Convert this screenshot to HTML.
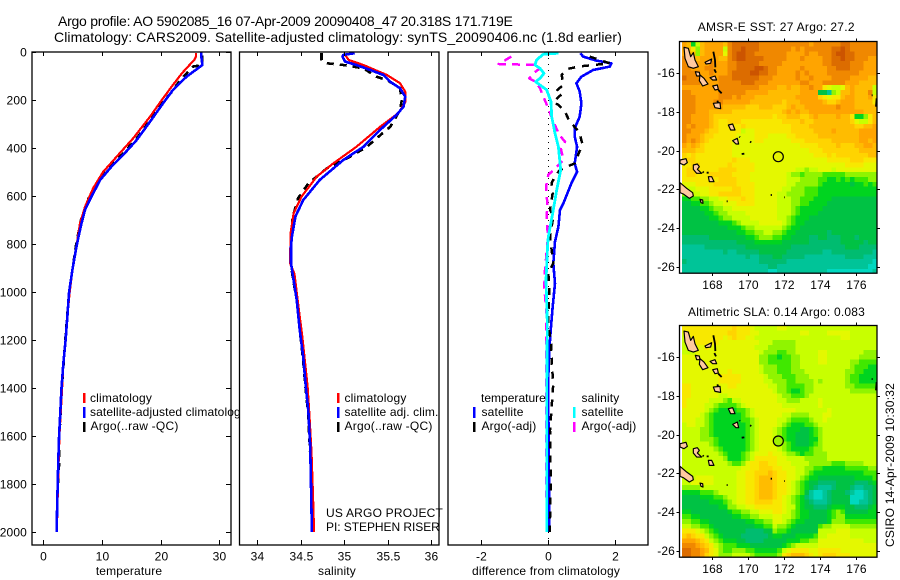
<!DOCTYPE html>
<html>
<head>
<meta charset="utf-8">
<title>Argo profile</title>
<style>
html,body{margin:0;padding:0;background:#fff}
svg{display:block}
text{font-family:"Liberation Sans",sans-serif;font-size:12px;fill:#000;letter-spacing:.15px}
.frame{fill:none;stroke:#000;stroke-width:1.3}
.s{fill:none;stroke-linejoin:round;shape-rendering:crispEdges}
.tk{stroke:#000;stroke-width:1;shape-rendering:crispEdges}
.isl{fill:#ffc9a0;stroke:#000;stroke-width:3.5;stroke-linejoin:round}
.bl{fill:none;stroke:#000;stroke-width:5.5}
</style>
</head>
<body>
<svg id="fig" xmlns="http://www.w3.org/2000/svg" width="900" height="580" viewBox="0 0 900 580">
<defs>
<clipPath id="clip-sst"><rect x="680" y="42" width="197" height="231"/></clipPath>
<clipPath id="clip-sla"><rect x="680" y="326" width="197" height="231"/></clipPath>
<clipPath id="clip-legend"><rect x="0" y="380" width="240" height="60"/></clipPath>
<clipPath id="clip-p1"><rect x="32" y="52" width="199" height="493"/></clipPath>
<clipPath id="clip-p2"><rect x="240" y="52" width="199" height="493"/></clipPath>
<clipPath id="clip-p3"><rect x="448" y="52" width="200" height="493"/></clipPath>
<g id="islands">
<path class="isl" d="M72,112L85,115L92,140L100,128L105,150L115,170L100,175L85,170L75,145Z"/>
<path class="isl" d="M135,157L155,147L152,160L138,162Z"/>
<path class="isl" d="M106,185L118,187L120,198L110,198Z"/>
<path class="isl" d="M120,195L132,205L144,222L128,228L118,212Z"/>
<path class="bl" d="M160,125L165,150L166,172M163,178L168,188"/>
<path class="isl" d="M150,203L165,198L170,210L158,210Z"/>
<path class="isl" d="M158,228L172,225L175,238L165,240Z"/>
<path class="bl" d="M175,240L185,250M172,272L175,280"/>
<path class="isl" d="M160,280L180,278L182,296L165,293Z"/>
<path class="isl" d="M205,345L218,342L225,360L212,360Z"/>
<path class="isl" d="M218,392L232,385L236,402L228,402Z"/>
<path class="bl" d="M238,380l2,2M270,395l4,2M245,432l8,-1"/>
<path class="isl" d="M60,450L78,446L82,458L72,465L60,460Z"/>
<path class="isl" d="M100,465L112,462L118,470L112,478L125,490L110,490L100,478Z"/>
<path class="isl" d="M145,500L155,500L162,515L148,515Z"/>
<path class="bl" d="M140,488l6,0M128,485l3,3M332,555l4,0M373,562l2,0M200,574l3,0M635,256l3,0M650,265L648,290"/>
<path class="isl" d="M60,518L80,535L98,548L100,558L88,565L70,552L60,548Z"/>
<path class="isl" d="M120,568l8,2l1,10l-6,-2Z"/>
</g>
</defs>

<rect x="0" y="0" width="900" height="580" fill="#fff"/>

<text x="58" y="26" style="font-size:14px" textLength="455" lengthAdjust="spacing">Argo profile: AO 5902085_16 07-Apr-2009 20090408_47 20.318S 171.719E</text>
<text x="54" y="42" style="font-size:14px" textLength="568" lengthAdjust="spacing">Climatology: CARS2009. Satellite-adjusted climatology: synTS_20090406.nc (1.8d earlier)</text>

<!-- temperature panel -->
<g id="p1">
<g clip-path="url(#clip-p1)">
<polyline id="t-argo" class="s" stroke="#000" stroke-width="2.6" stroke-dasharray="7 6"/>
<polyline id="t-clim" class="s" stroke="#f00" stroke-width="2.2"/>
<polyline id="t-sat" class="s" stroke="#00f" stroke-width="2.6"/>
</g>
<rect class="frame" x="32" y="52" width="199" height="493"/>
<text x="129" y="575" text-anchor="middle">temperature</text>
<rect x="83" y="393" width="2.5" height="10" fill="#f00"/>
<rect x="83" y="407" width="2.5" height="11" fill="#00f"/>
<rect x="83" y="422" width="2.5" height="10" fill="#000"/>
<text x="90" y="402" textLength="62">climatology</text>
<g clip-path="url(#clip-legend)"><text x="90" y="416" textLength="157">satellite-adjusted climatology</text></g>
<text x="90.5" y="430" textLength="88">Argo(..raw -QC)</text>
</g>

<!-- salinity panel -->
<g id="p2">
<g clip-path="url(#clip-p2)">
<polyline id="s-argo" class="s" stroke="#000" stroke-width="2.6" stroke-dasharray="7 6"/>
<polyline id="s-clim" class="s" stroke="#f00" stroke-width="2.2"/>
<polyline id="s-sat" class="s" stroke="#00f" stroke-width="2.6"/>
</g>
<rect class="frame" x="239.5" y="52" width="199.5" height="493"/>
<text x="337" y="575" text-anchor="middle">salinity</text>
<rect x="337" y="393" width="2.5" height="10" fill="#f00"/>
<rect x="337" y="407" width="2.5" height="11" fill="#00f"/>
<rect x="337" y="422" width="2.5" height="10" fill="#000"/>
<text x="344.5" y="402" textLength="62">climatology</text>
<text x="344.5" y="416" textLength="94">satellite adj. clim.</text>
<text x="344.5" y="430" textLength="88">Argo(..raw -QC)</text>
<text x="326" y="517" textLength="117">US ARGO PROJECT</text>
<text x="326" y="531" textLength="114">PI: STEPHEN RISER</text>
</g>

<!-- difference panel -->
<g id="p3">
<line x1="548.5" y1="52" x2="548.5" y2="545" stroke="#000" stroke-width="1" stroke-dasharray="1 5"/>
<g clip-path="url(#clip-p3)">
<polyline id="d-t-sat" class="s" stroke="#00f" stroke-width="2.6"/>
<polyline id="d-t-argo" class="s" stroke="#000" stroke-width="2.5" stroke-dasharray="7 7"/>
<polyline id="d-s-argo" class="s" stroke="#f0f" stroke-width="2.5" stroke-dasharray="8 6"/>
<polyline id="d-s-sat" class="s" stroke="#0ff" stroke-width="2.8"/>
</g>
<rect class="frame" x="448" y="52" width="200" height="493"/>
<text x="472" y="575" textLength="148">difference from climatology</text>
<text x="481" y="402" textLength="65">temperature</text>
<text x="581.5" y="402">salinity</text>
<rect x="473" y="407" width="2.5" height="11" fill="#00f"/>
<rect x="473" y="422" width="2.5" height="10" fill="#000"/>
<rect x="573" y="407" width="2.5" height="11" fill="#0ff"/>
<rect x="573" y="422" width="2.5" height="10" fill="#f0f"/>
<text x="481.5" y="416">satellite</text>
<text x="481.5" y="430">Argo(-adj)</text>
<text x="581.5" y="416">satellite</text>
<text x="581.5" y="430">Argo(-adj)</text>
</g>

<!-- SST map -->
<g>
<text x="697.7" y="31" textLength="157">AMSR-E SST: 27 Argo: 27.2</text>
<g clip-path="url(#clip-sst)">
<g id="sst-cells"></g>
<g transform="translate(660,10) scale(0.33333)"><use href="#islands"/></g>
</g>
<circle cx="778.3" cy="156.7" r="5" fill="#e4f400" stroke="#000" stroke-width="1.2"/>
<g id="sst-axes"></g>
<rect class="frame" x="679.5" y="41.5" width="197.5" height="231.7"/>
</g>

<!-- SLA map -->
<g>
<text x="688" y="316" textLength="177">Altimetric SLA: 0.14 Argo: 0.083</text>
<g clip-path="url(#clip-sla)">
<g id="sla-cells"></g>
<g transform="translate(660,293.7) scale(0.33333)"><use href="#islands"/></g>
</g>
<circle cx="778.3" cy="441" r="5" fill="#a0f000" stroke="#000" stroke-width="1.2"/>
<g id="sla-axes"></g>
<rect class="frame" x="679.5" y="325.5" width="197.5" height="231.7"/>
</g>

<text transform="translate(894,547) rotate(-90)" textLength="164" lengthAdjust="spacing">CSIRO 14-Apr-2009 10:30:32</text>
<g id="profile-axes"></g>
</svg>

<script>
// Depth ticks and axis ticks
const depthTicks = [0,200,400,600,800,1000,1200,1400,1600,1800,2000];
const tempTicks = [0,10,20,30];
const salTicks = [34,34.5,35,35.5,36];
const salTickLabels = ['34','34.5','35','35.5','36'];
const diffTicks = [-2,0,2];
const lonTicks = [168,170,172,174,176];
const latTicks = [16,18,20,22,24,26];

// Temperature panel
const tempSatDepth = [0,15,54,103,158,214,290,367,429,478,533,603,658,714,770,817,900,1000,1100,1200,1300,1400,1500,1600,1700,1800,1900,2000];
const tempSatValue = [26.9,26.9,27.1,24.4,22.1,20.4,18.2,15.9,13.6,11.6,9.7,8.2,7.1,6.5,6,5.6,5,4.4,4.1,3.8,3.4,3.1,2.9,2.7,2.55,2.45,2.35,2.28];
const tempClimDepth = [5,20,33,89,137,193,269,360,436,499,567,645,714,817,900,1000,1100,1200,1300,1400,1600,1800,2000];
const tempClimValue = [26,26,25.7,23.6,22.1,20.4,18.2,15.3,12.5,10.2,8.5,7.1,6.25,5.6,5,4.5,4.1,3.8,3.4,3.2,2.75,2.5,2.3];
const tempArgoDepth = [15,54,61,117,172,228,285,360,436,499,560,620,700,800,900,1000,1200,1400,1600,1700,1800];
const tempArgoValue = [27.1,27.1,25.5,23.3,21.7,19.6,18.2,15.9,13.1,10.5,8.8,7.5,6.4,5.6,5,4.4,3.75,3.15,2.75,2.72,2.5];

// Salinity panel
const salSatDepth = [5,12,20,40,54,75,96,124,151,186,228,262,325,395,450,533,617,686,770,811,880,950,1033,1158,1270,1394,1500,1645,1825,2000];
const salSatValue = [35.12,34.99,34.98,35.01,35.14,35.30,35.45,35.53,35.64,35.70,35.68,35.60,35.41,35.22,34.99,34.72,34.53,34.44,34.40,34.39,34.39,34.42,34.455,34.49,34.53,34.56,34.59,34.61,34.62,34.63];
const salClimDepth = [12,33,54,96,130,165,210,255,312,395,464,519,603,672,755,880,925,1046,1186,1394,1504,1670,1825,2000];
const salClimValue = [35.01,35.05,35.22,35.49,35.64,35.70,35.70,35.62,35.41,35.14,34.875,34.685,34.51,34.42,34.385,34.38,34.43,34.47,34.52,34.58,34.60,34.625,34.64,34.655];
const salArgoDepth = [5,33,47,54,68,103,117,150,200,242,311,360,395,436,485,547,610,686,770,880,950,1033,1158,1270,1394,1500,1645,1825];
const salArgoValue = [34.74,34.74,34.80,34.99,35.22,35.37,35.49,35.64,35.66,35.64,35.53,35.37,35.26,35.07,34.80,34.59,34.47,34.41,34.39,34.385,34.415,34.455,34.49,34.525,34.555,34.585,34.605,34.63];

// Difference panel
const diffTSatDepth = [5,19,36,47,61,75,103,130,165,214,269,318,352,395,464,499,547,630,658,728,790,880,964,1060,1145,1242,1353,1478,1575,1800,2000];
const diffTSatValue = [0.97,1.05,1.45,1.9,1.85,1.35,1.0,0.85,0.95,1.0,0.95,0.8,0.8,0.87,0.8,0.87,0.7,0.46,0.36,0.31,0.21,0.16,0.21,0.14,0.09,0.04,0.01,0.0,0.02,0.03,0.03];
const diffTArgoDepth = [19,47,55,60,70,96,137,158,172,207,221,249,290,332,383,429,464,478,494,519,546,588,658,686,770,880,921,978,1130,1214,1297,1380,1478,1575,1800,2000];
const diffTArgoValue = [1.25,1.85,1.3,0.95,0.6,0.41,0.46,0.28,0.44,0.16,0.31,0.51,0.65,0.93,1.03,0.9,0.8,0.56,0.34,0.21,0.11,0.14,0.06,0.16,0.06,0.16,0.01,0.04,0.01,0.09,0.11,0.16,0.11,0.06,0.08,0.05];
const diffSSatDepth = [5,9,33,54,68,89,110,124,158,207,269,339,395,492,575,672,770,800,950,1130,1437,2000];
const diffSSatValue = [0.31,-0.14,-0.34,-0.39,-0.24,-0.12,-0.24,-0.37,-0.04,0.09,0.11,0.21,0.31,0.38,0.26,0.14,0.01,-0.01,-0.06,-0.02,-0.04,-0.04];
const diffSArgoDepth = [19,50,54,68,89,110,124,151,186,235,290,346,374,400,450,485,512,561,630,700,770,908,978,1100,1200,1492,2000];
const diffSArgoValue = [-1.1,-1.48,-0.34,-0.24,-0.44,-0.56,-0.37,-0.24,-0.14,0.01,0.16,0.34,0.51,0.38,0.46,0.21,0.01,-0.06,-0.02,-0.04,0,-0.09,-0.11,-0.04,-0.06,-0.06,-0.04];

// Map colour levels, low to high
const levelColors = {'0':'#00d8c0','1':'#00c498','2':'#00bc70','3':'#00c244','4':'#00d420','5':'#40e800','6':'#90f400','7':'#c8ff00','8':'#e4f800','9':'#f8e800','a':'#ffd400','b':'#ffbc00','c':'#ffa400','d':'#f08800','e':'#dc6c00','f':'#cc5400'};

// Sea surface temperature, one character per grid cell
const sstGrid = [
"cb47bccccb deeeeeeddd ddddddddcd dddddeedddddd",
"cb96bcccc7 deefeeeddd ddddcdcddd dddeefedddddd",
"cbb6bcccc8 deffeedddd dddccccdcc dddeffeeddddd",
"dcbbccccbb deffeeeedd dddcccdccc cddeefeedddcc",
"dcccccdccc ddeeeeeddd ddcccccccc cddeeeedddccc",
"ddcccddccc ddeeeeffed dcccccdccc ccddeeedddccc",
"ddddccdccc deeeeffeed dccccdcdcc ccdddddddcccc",
"edddccccdd deeeeeeddd cccccdccdc cccddddccccbb",
"ddddccccdd dddeeedddc ccccccddcc cdddddcccbbbb",
"ccccccccdd dddddddccc cbbcbbccdc c98778bcbbbb7",
"ddccccccdd ddddcccccb bbbbbbcccc 33167bbcbbbd7",
"dddcccccdd dcdcccbbbb bbbbbccccc a9899bccbbbc9",
"dddccccddc cccccbbbbb bbabbbcccc cbaabcccbbbb9",
"dddccccccb bbbbaaabbb aaabcbbccc ccccdcccbbbbb",
"dddcccbbbb baaaaaaaaa aabcbcbbcc ccccccccccbbb",
"ddccccbaaa aaaaaaaaaa 9aabbbaabc bbbbcbb94469b",
"ddccccba99 aaa9999999 99aaaabaab bbbbbbba8779b",
"dcdcccba99 999a999999 9999aaaabb bbbbbbbbaabbc",
"ddcccbaa99 9997889999 9999aaaaab bbbcbbbbbcccc",
"dcccbaa999 9988889998 88899aaaaa bbbbbbbbbcccc",
"dcdcba9999 9888889988 8888999aaa aaabbbbbbccbc",
"cbcba99999 9888888888 8888889999 aaaabaaabbccb",
"bbbaa99999 9888888888 8888888899 9aaaaaaaabbbb",
"a9a9999999 9888888888 8888888889 99a9aaaaaaabb",
"9aa9999999 9a99988888 8888888888 8899999aaa999",
"99aa999999 a999998888 8888888888 8888889999888",
"9aaa9999aa aa99998888 8888877677 8887888888888",
"9aa999aaaa a999988888 8887665666 6555556666666",
"999999a9aa aa99988888 8887776666 5544545455566",
"8889999aaa aa99998888 8887766666 5444444344545",
"7778889999 9aa9998888 8877666555 4444444444444",
"66778899aa aaa9998888 8776666555 4444444444444",
"4455667788 999a998888 8777665554 4443333333333",
"3344556778 8899998888 8777665544 4433333333333",
"3333445667 7888888888 8777654444 4333333333333",
"3333344566 7777888888 8777654444 3333333333333",
"3333334456 6777788888 8776544433 3333333333333",
"3333333344 4567777888 8876544333 3333333333333",
"3333333333 4445667777 7765443333 3333333333333",
"3333333333 3344556677 6654433333 3323333333333",
"2222223333 3333445666 5544333322 3322233323333",
"2222222222 2233334444 4433333322 2222233333233",
"1111122222 2222333333 3333222222 2222223332222",
"1111111112 1122222333 3332222222 2112222222221",
"1111111111 1111211222 3322222111 1111112222111",
"2111111111 1111111222 2221111111 1111111111110",
"1111111111 1111111112 2111111111 1111111111100",
"1111111111 1111111110 0111111111 1100000000001"
];

// Sea level anomaly, one character per grid cell
const slaGrid = [
"9999999999 9a99987777 7887777777 7777777777777",
"8999999999 aa99988777 7777778877 7788888777777",
"7899999998 9a99887777 7777777777 7777788777777",
"7799999988 8888888777 6666677777 7777777777777",
"7888898888 8888887776 6666677777 7777777777777",
"7778888888 8888888766 6556677777 8877777777666",
"8888888888 8888888665 5455667777 8877777776666",
"8888888888 8888888665 5555667777 8877777665555",
"8888888888 8888888766 6555667777 7777777655544",
"8888888888 9888888766 6555666777 7777776655444",
"8888888899 9998888876 6655566677 7777776554444",
"8888888899 9998888877 6665566667 6777776554444",
"9988888888 9988888887 7665555667 7777776655555",
"9988888888 8888888888 7665445667 7777777666666",
"9988888877 8888888888 8766555677 7777777777777",
"9888887776 5778888888 8776667777 8777777777777",
"9888877655 5567888888 8877777777 8777777777777",
"8888876544 4455678888 8888877777 7787777777777",
"8888765444 4445678888 8877666677 7887777777777",
"8887765444 4445567888 8776555567 7877777777777",
"7887765444 4444567888 8765444556 7777777777777",
"7777665444 4444567888 7654443345 6777777777777",
"7777665444 4444567888 7654433345 6777777777777",
"7777666544 4444567888 7654433344 6777777777777",
"7777776544 4444567888 8765433345 6777777777777",
"7777777654 4444567888 8765444456 6777777777777",
"7777777765 4445678889 8876654556 6677777777777",
"7777777776 4445679999 9887777666 6677777777777",
"7777777777 6556899aa9 9888777766 6665556666777",
"7777777777 7778899aaa 9988877665 5444445555566",
"7777777777 778899aaab a998877654 4444444444555",
"7778888777 778899abbb a998876544 3333333344445",
"7788888777 778899abbb a998765433 2222333322234",
"6666777777 778899abbb a998765432 1112333211223",
"4444555677 778899abbb a998765310 0123332100123",
"3333444556 778899abbb a987654210 0123333000123",
"3333334445 678899aaaa 9987654321 1123333001123",
"3333333344 6677889999 9987754332 2234443322234",
"4433333333 4556677888 9987654433 3345653333344",
"5544333333 3445566777 8877654433 3345664444444",
"6655443333 3333445566 8876544333 3346665555555",
"7766554333 3333334455 7665433333 5667777666666",
"9998765433 3333222233 6554333333 7777888777777",
"aba9976543 3332222223 4433344445 7788888777777",
"cccba97654 4433222233 3334445566 8888888888777",
"dddcba9765 5544433333 3345677777 8888888888888",
"eeddcb9865 5666554444 4578999988 9999988888888",
"eeddca9866 6777765555 569abbba98 9aaa999888888"
];

const NS = 'http://www.w3.org/2000/svg';
const xTemp = v => 43.3 + 5.87 * v;
const xSal = v => 257 + 87.2 * (v - 34);
const xDiff = v => 548 + 33.4 * v;
const yDepth = d => 52 + 0.24 * d;
const xLon = lon => 711.7 + 18 * (lon - 168);
const yLatSst = lat => 73.3 + 19.33 * (lat - 16);
const yLatSla = lat => 357.3 + 19.33 * (lat - 16);
const lonStart = 166.35, latStart = 14.365, cellLon = 0.2519, cellLat = 0.25;

function mk(tag, parent, attrs, txt) {
  const el = document.createElementNS(NS, tag);
  for (const k in attrs) el.setAttribute(k, attrs[k]);
  if (txt !== undefined) el.textContent = txt;
  parent.appendChild(el);
  return el;
}
function plot(id, xf, depths, values) {
  document.getElementById(id).setAttribute('points',
    depths.map((d, i) => xf(values[i]).toFixed(1) + ',' + yDepth(d).toFixed(1)).join(' '));
}

plot('t-sat', xTemp, tempSatDepth, tempSatValue);
plot('t-clim', xTemp, tempClimDepth, tempClimValue);
plot('t-argo', xTemp, tempArgoDepth, tempArgoValue);
plot('s-sat', xSal, salSatDepth, salSatValue);
plot('s-clim', xSal, salClimDepth, salClimValue);
plot('s-argo', xSal, salArgoDepth, salArgoValue);
plot('d-t-sat', xDiff, diffTSatDepth, diffTSatValue);
plot('d-t-argo', xDiff, diffTArgoDepth, diffTArgoValue);
plot('d-s-sat', xDiff, diffSSatDepth, diffSSatValue);
plot('d-s-argo', xDiff, diffSArgoDepth, diffSArgoValue);

// Profile axes
const axes = document.getElementById('profile-axes');
depthTicks.forEach(d => {
  const y = Math.round(yDepth(d)) + 0.5;
  const lab = mk('text', axes, {x: 27, y: y + 3.8, 'text-anchor': 'end'}, String(d));
  
  
  const l = mk('line', axes, {class: 'tk', x1: 32, x2: 36, y1: y, y2: y});
  
  
  const r = mk('line', axes, {class: 'tk', x1: 226, x2: 231, y1: y, y2: y});
  
  
});
function xTicks(vals, labels, xf) {
  vals.forEach((v, i) => {
    const x = Math.round(xf(v)) + 0.5;
    const t = mk('line', axes, {class: 'tk', x1: x, x2: x, y1: 52, y2: 56});
    
    
    const b = mk('line', axes, {class: 'tk', x1: x, x2: x, y1: 540, y2: 545});
    
    
    const lab = mk('text', axes, {x: x, y: 560.5, 'text-anchor': 'middle'}, labels[i]);
    
    
  });
}
xTicks(tempTicks, tempTicks.map(String), xTemp);
xTicks(salTicks, salTickLabels, xSal);
xTicks(diffTicks, diffTicks.map(String), xDiff);

// Maps
function drawGrid(gridRows, groupId, yLat) {
  const g = document.getElementById(groupId);
  gridRows.forEach((row, j) => {
    const cells = row.replace(/ /g, '');
    for (let i = 0; i < cells.length; i++) {
      const lon = lonStart + i * cellLon, lat = latStart + j * cellLat;
      const el = mk('rect', g, {
        x: xLon(lon).toFixed(2), y: yLat(lat).toFixed(2),
        width: (cellLon * 18 + 0.4).toFixed(2), height: (cellLat * 19.33 + 0.4).toFixed(2),
        fill: levelColors[cells[i]], 'shape-rendering': 'crispEdges'
      });
      
      
    }
  });
}
drawGrid(sstGrid, 'sst-cells', yLatSst);
drawGrid(slaGrid, 'sla-cells', yLatSla);

function mapAxes(groupId, yLat, top, bottom) {
  const g = document.getElementById(groupId);
  lonTicks.forEach(lon => {
    const x = Math.round(xLon(lon)) + 0.5;
    const t = mk('line', g, {class: 'tk', x1: x, x2: x, y1: top - 3, y2: top});
    
    
    const b = mk('line', g, {class: 'tk', x1: x, x2: x, y1: bottom, y2: bottom + 3});
    
    
    const lab = mk('text', g, {x: x, y: bottom + 16, 'text-anchor': 'middle'}, String(lon));
    
    
  });
  latTicks.forEach(lat => {
    const y = Math.round(yLat(lat)) + 0.5;
    const l = mk('line', g, {class: 'tk', x1: 676.5, x2: 679.5, y1: y, y2: y});
    
    
    const r = mk('line', g, {class: 'tk', x1: 877, x2: 880, y1: y, y2: y});
    
    
    const lab = mk('text', g, {x: 675, y: y + 3.5, 'text-anchor': 'end'}, '-' + lat);
    
    
  });
}
mapAxes('sst-axes', yLatSst, 41.5, 273.2);
mapAxes('sla-axes', yLatSla, 325.5, 557.2);
</script>
</body>
</html>
